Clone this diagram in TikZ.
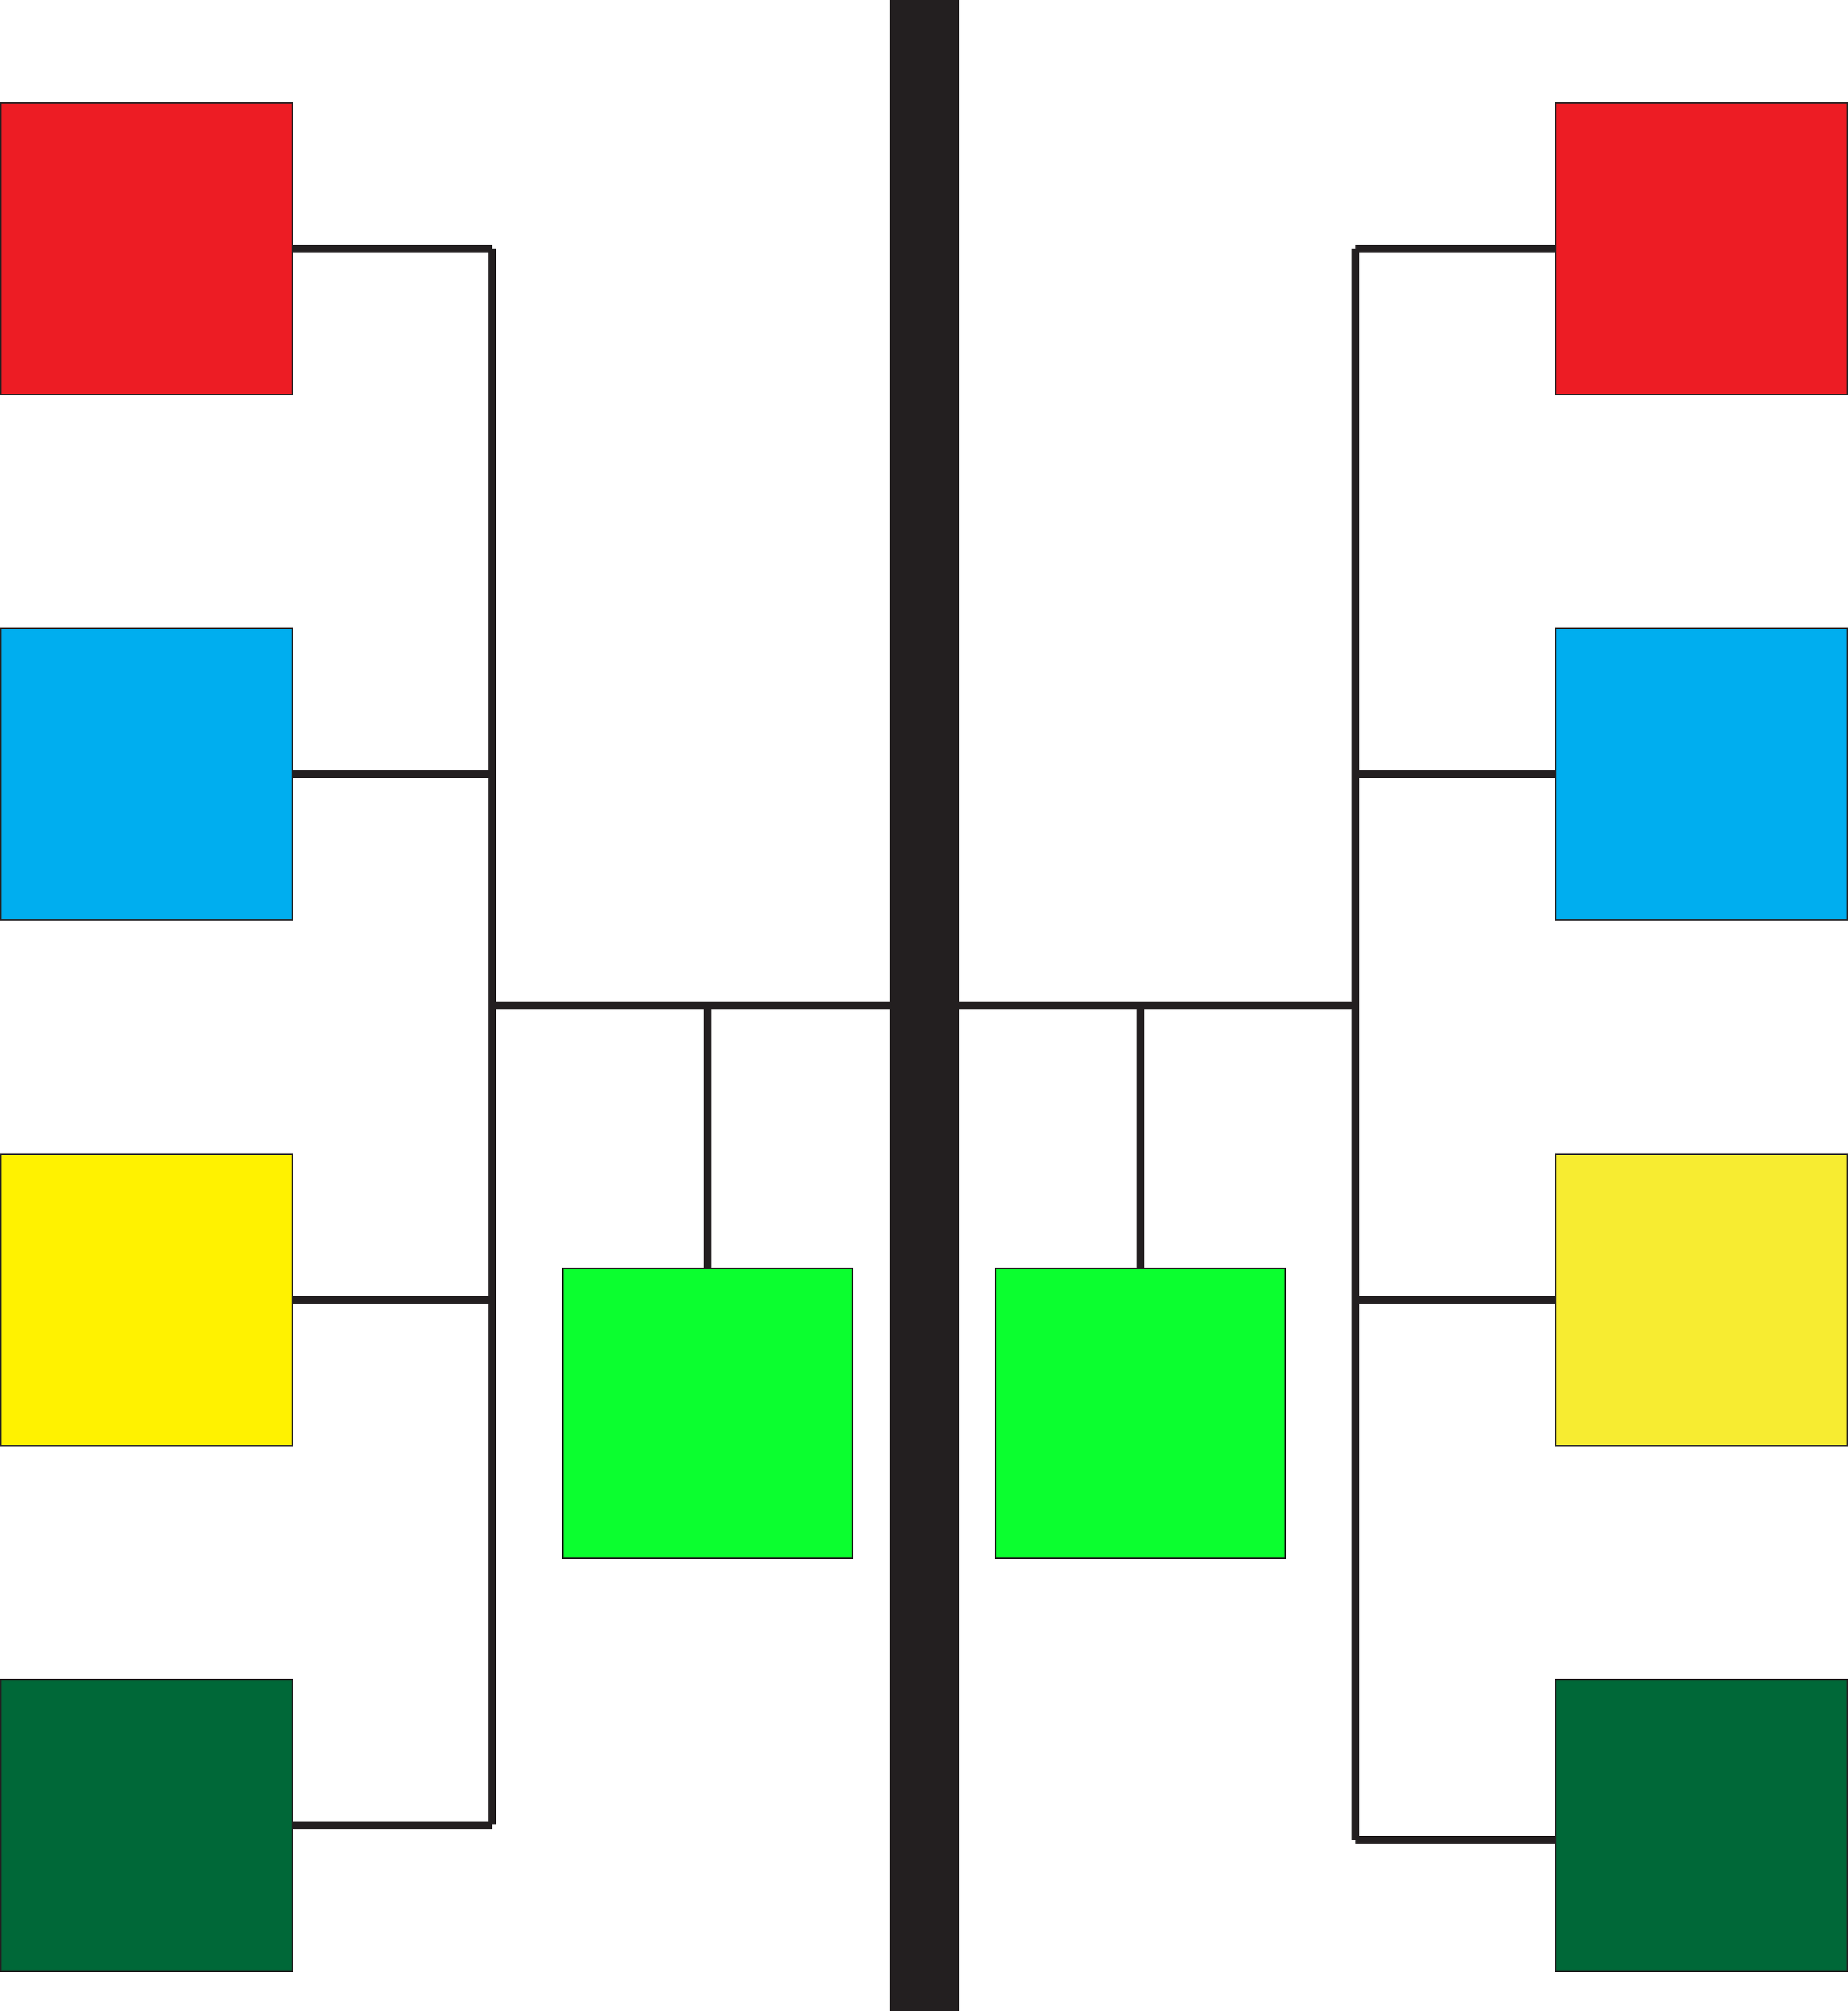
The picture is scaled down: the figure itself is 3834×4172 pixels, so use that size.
\documentclass[tikz,border=0pt]{standalone}
\definecolor{cRed}{HTML}{ED1C24}
\definecolor{cBlue}{HTML}{00AEEF}
\definecolor{cYelL}{HTML}{FFF200}
\definecolor{cYelR}{HTML}{F7EC31}
\definecolor{cDkGreen}{HTML}{006838}
\definecolor{cGreen}{HTML}{0BFF2F}
\definecolor{cLine}{HTML}{231F20}
\begin{document}
\begin{tikzpicture}[x=0.01cm,y=-0.01cm,
  box/.style={draw=cLine,line width=0.8pt,rectangle,inner sep=0pt,outer sep=0pt,
    minimum width=6.05cm,minimum height=6.05cm},
  gbox/.style={box,fill=cGreen,minimum width=6.0cm,minimum height=6.0cm},
  wire/.style={draw=cLine,line width=4.6pt}]
\useasboundingbox (0,0) rectangle (3834,4172);
\fill[white] (0,0) rectangle (3834,4172);
% central bar
\node[fill=cLine,inner sep=0pt,outer sep=0pt,minimum width=1.44cm,minimum height=41.72cm] (bar) at (1918,2086) {};
% left boxes
\node[box,fill=cRed] (lr) at (304,516) {};
\node[box,fill=cBlue] (lb) at (304,1606) {};
\node[box,fill=cYelL] (ly) at (304,2697) {};
\node[box,fill=cDkGreen] (ld) at (304,3787) {};
% right boxes
\node[box,fill=cRed] (rr) at (3530,516) {};
\node[box,fill=cBlue] (rb) at (3530,1606) {};
\node[box,fill=cYelR] (ry) at (3530,2697) {};
\node[box,fill=cDkGreen] (rd) at (3530,3787) {};
% green boxes
\node[gbox] (gl) at (1468,2932) {};
\node[gbox] (gr) at (2366,2932) {};
% bus coordinates
\coordinate (lv) at (1021,2086);
\coordinate (rv) at (2812,2086);
\coordinate (lvt) at (1021,516);
\coordinate (lvb) at (1021,3785);
\coordinate (rvt) at (2812,516);
\coordinate (rvb) at (2812,3817);
\coordinate (rdw) at (2812,3817);
% left side wires
\draw[wire] (lvt) -- (lvb);
\draw[wire] (lr.east) -- (lr.east -| lv);
\draw[wire] (lb.east) -- (lb.east -| lv);
\draw[wire] (ly.east) -- (ly.east -| lv);
\draw[wire] (ld.east) -- (ld.east -| lv);
\draw[wire] (lv) -- (bar.west |- lv);
\draw[wire] (gl.north) -- (gl.north |- lv);
% right side wires
\draw[wire] (rvt) -- (rvb);
\draw[wire] (rr.west) -- (rr.west -| rv);
\draw[wire] (rb.west) -- (rb.west -| rv);
\draw[wire] (ry.west) -- (ry.west -| rv);
\draw[wire] (rdw) -- (rdw -| rd.west);
\draw[wire] (rv) -- (bar.east |- rv);
\draw[wire] (gr.north) -- (gr.north |- rv);
\end{tikzpicture}
\end{document}
